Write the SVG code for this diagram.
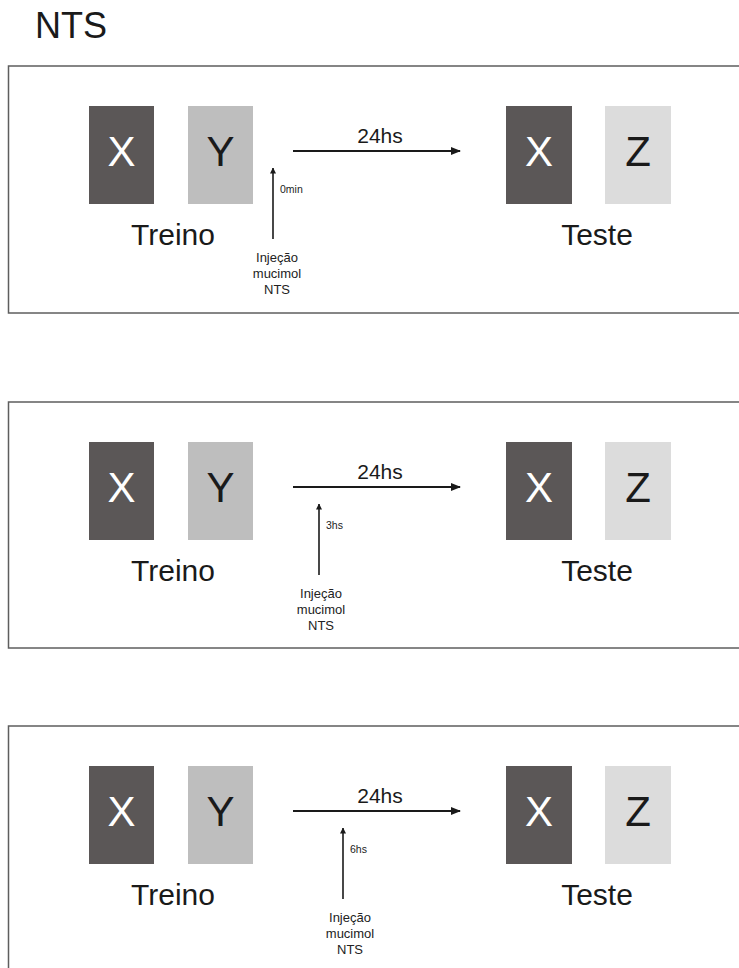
<svg xmlns="http://www.w3.org/2000/svg" width="739" height="968" viewBox="0 0 739 968">
  <style>
    text { font-family: "Liberation Sans", Arial, sans-serif; }
    .panel { fill: #ffffff; stroke: #5e5e5e; stroke-width: 1.5; }
    .objA { fill: #5b5757; }
    .objB { fill: #bebebe; }
    .objC { fill: #dcdcdc; }
    .letter { font-size: 42px; text-anchor: middle; }
    .light { fill: #ffffff; }
    .dark { fill: #1a1a1a; }
    .phase { font-size: 30px; text-anchor: middle; fill: #1a1a1a; }
    .delay { font-size: 21px; text-anchor: middle; fill: #1a1a1a; }
    .time { font-size: 10.5px; fill: #222222; }
    .inj { font-size: 13px; text-anchor: middle; fill: #222222; }
    .main { stroke: #1a1a1a; stroke-width: 2; fill: none; }
    .inject { stroke: #1a1a1a; stroke-width: 1.6; fill: none; }
  </style>
  <defs>
    <marker id="headBig" viewBox="0 0 10 8" refX="9" refY="4" markerWidth="10" markerHeight="8" markerUnits="userSpaceOnUse" orient="auto">
      <path d="M0,0 L10,4 L0,8 Z" fill="#1a1a1a"/>
    </marker>
    <marker id="headSmall" viewBox="0 0 6 6" refX="5.5" refY="3" markerWidth="6" markerHeight="6" markerUnits="userSpaceOnUse" orient="auto">
      <path d="M0,0 L6,3 L0,6 Z" fill="#1a1a1a"/>
    </marker>
  </defs>

  <text id="title" x="35" y="38" font-size="36" fill="#1a1a1a">NTS</text>

  <!-- Panel 1: injection at 0 min -->
  <g id="panel1">
    <rect class="panel" x="8.5" y="66" width="740" height="247"/>
    <g id="p1-train">
      <rect class="objA" x="89" y="106" width="65" height="98"/>
      <text class="letter light" x="121.5" y="166">X</text>
      <rect class="objB" x="188" y="106" width="65" height="98"/>
      <text class="letter dark" x="220.5" y="166">Y</text>
      <text class="phase" x="173" y="245">Treino</text>
    </g>
    <g id="p1-test">
      <rect class="objA" x="506" y="106" width="66" height="98"/>
      <text class="letter light" x="539" y="166">X</text>
      <rect class="objC" x="605" y="106" width="66" height="98"/>
      <text class="letter dark" x="638" y="166">Z</text>
      <text class="phase" x="597" y="245">Teste</text>
    </g>
    <g id="p1-injection">
      <text class="time" x="280" y="193">0min</text>
      <text class="inj" x="277" y="262">Injeção</text>
      <text class="inj" x="277" y="278">mucimol</text>
      <text class="inj" x="277" y="294">NTS</text>
    </g>
    <text class="delay" x="380" y="143">24hs</text>
  </g>

  <!-- Panel 2: injection at 3 h -->
  <g id="panel2">
    <rect class="panel" x="8.5" y="402" width="740" height="246"/>
    <g id="p2-train">
      <rect class="objA" x="89" y="442" width="65" height="98"/>
      <text class="letter light" x="121.5" y="502">X</text>
      <rect class="objB" x="188" y="442" width="65" height="98"/>
      <text class="letter dark" x="220.5" y="502">Y</text>
      <text class="phase" x="173" y="581">Treino</text>
    </g>
    <g id="p2-test">
      <rect class="objA" x="506" y="442" width="66" height="98"/>
      <text class="letter light" x="539" y="502">X</text>
      <rect class="objC" x="605" y="442" width="66" height="98"/>
      <text class="letter dark" x="638" y="502">Z</text>
      <text class="phase" x="597" y="581">Teste</text>
    </g>
    <g id="p2-injection">
      <text class="time" x="326" y="529">3hs</text>
      <text class="inj" x="321" y="598">Injeção</text>
      <text class="inj" x="321" y="614">mucimol</text>
      <text class="inj" x="321" y="630">NTS</text>
    </g>
    <text class="delay" x="380" y="479">24hs</text>
  </g>

  <!-- Panel 3: injection at 6 h -->
  <g id="panel3">
    <rect class="panel" x="8.5" y="726" width="740" height="260"/>
    <g id="p3-train">
      <rect class="objA" x="89" y="766" width="65" height="98"/>
      <text class="letter light" x="121.5" y="826">X</text>
      <rect class="objB" x="188" y="766" width="65" height="98"/>
      <text class="letter dark" x="220.5" y="826">Y</text>
      <text class="phase" x="173" y="905">Treino</text>
    </g>
    <g id="p3-test">
      <rect class="objA" x="506" y="766" width="66" height="98"/>
      <text class="letter light" x="539" y="826">X</text>
      <rect class="objC" x="605" y="766" width="66" height="98"/>
      <text class="letter dark" x="638" y="826">Z</text>
      <text class="phase" x="597" y="905">Teste</text>
    </g>
    <g id="p3-injection">
      <text class="time" x="350" y="853">6hs</text>
      <text class="inj" x="350" y="922">Injeção</text>
      <text class="inj" x="350" y="938">mucimol</text>
      <text class="inj" x="350" y="954">NTS</text>
    </g>
    <text class="delay" x="380" y="803">24hs</text>
  </g>

  <!-- Connectors: 24 h interval arrows and injection arrows -->
  <g id="connectors">
    <line class="main" x1="293" y1="151" x2="460" y2="151" marker-end="url(#headBig)"/>
    <line class="inject" x1="273" y1="239" x2="273" y2="168" marker-end="url(#headSmall)"/>
    <line class="main" x1="293" y1="487" x2="460" y2="487" marker-end="url(#headBig)"/>
    <line class="inject" x1="319" y1="575" x2="319" y2="504" marker-end="url(#headSmall)"/>
    <line class="main" x1="293" y1="811" x2="460" y2="811" marker-end="url(#headBig)"/>
    <line class="inject" x1="343" y1="899" x2="343" y2="828" marker-end="url(#headSmall)"/>
  </g>
</svg>
